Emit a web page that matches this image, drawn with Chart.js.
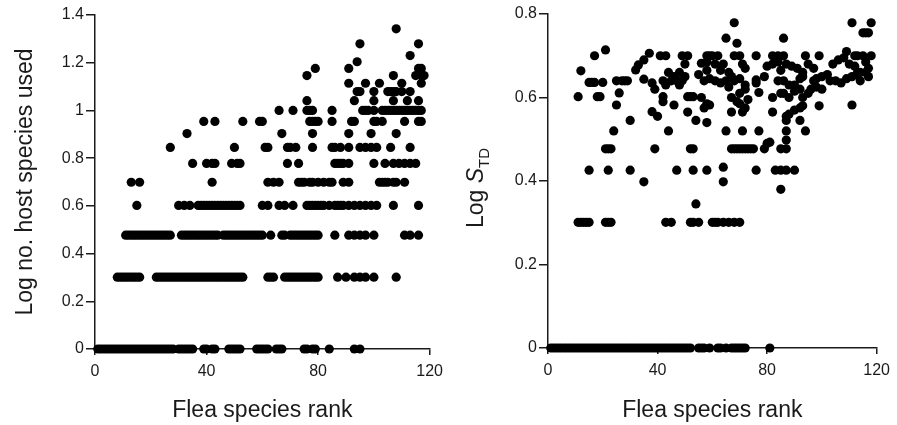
<!DOCTYPE html>
<html>
<head>
<meta charset="utf-8">
<script src="https://cdn.jsdelivr.net/npm/chart.js@4.4.1/dist/chart.umd.min.js"></script>
<style>
    html, body { margin: 0; padding: 0; background: #fff; }
    #wrap { position: relative; width: 897px; height: 425px; }
    canvas { position: absolute; top: 0; }
</style>
</head>
<body>
<div id="wrap">
    <canvas id="hosts" width="450" height="425" style="left:0"></canvas>
    <canvas id="std" width="447" height="425" style="left:450px"></canvas>
</div>
<script>
const xTicks = [0, 40, 80, 120]
const hostTicks = [0, 0.2, 0.4, 0.6, 0.8, 1, 1.2, 1.4]
const stdTicks = [0, 0.2, 0.4, 0.6, 0.8]

// left panel: log no. of hosts, and the ranks sitting on each level
const hostLevels = [0, 0.301, 0.477, 0.602, 0.699, 0.778, 0.845, 0.903, 0.954, 1, 1.041, 1.079, 1.114, 1.146, 1.176, 1.204, 1.230, 1.279, 1.342]
const hostRanks = [
    [1, 2, 3, 4, 5, 6, 7, 8, 9, 10, 11, 12, 13, 14, 15, 16, 17, 18, 19, 20, 21, 22, 23, 24, 25, 26, 27, 28, 30, 31, 32, 33, 34, 35, 39, 40, 42, 43, 48, 49, 50, 51, 52, 58, 59, 60, 61, 62, 65, 66, 67, 75, 76, 78, 79, 84, 93, 95],
    [8, 9, 10, 11, 12, 13, 14, 15, 16, 22, 23, 24, 25, 26, 27, 28, 29, 30, 31, 32, 33, 34, 35, 36, 37, 38, 39, 40, 41, 42, 43, 44, 45, 46, 47, 48, 49, 50, 51, 52, 53, 62, 63, 64, 68, 69, 70, 71, 72, 73, 74, 75, 76, 77, 78, 79, 80, 87, 90, 93, 95, 97, 100, 108],
    [11, 12, 13, 14, 15, 16, 17, 18, 19, 20, 21, 22, 23, 24, 25, 26, 27, 31, 32, 33, 34, 35, 36, 37, 38, 39, 40, 41, 42, 43, 44, 46, 47, 48, 49, 50, 51, 52, 53, 54, 55, 56, 57, 58, 59, 60, 63, 67, 68, 70, 71, 72, 73, 74, 75, 76, 77, 78, 79, 80, 86, 91, 93, 95, 97, 100, 111, 113, 116],
    [15, 30, 32, 34, 37, 38, 39, 40, 41, 42, 43, 44, 45, 46, 47, 48, 49, 50, 51, 52, 60, 62, 66, 68, 71, 76, 77, 78, 79, 80, 81, 82, 84, 86, 87, 88, 89, 91, 93, 95, 97, 99, 101, 107, 116],
    [13, 16, 42, 62, 64, 66, 73, 74, 75, 77, 78, 80, 82, 84, 85, 89, 91, 102, 103, 104, 105, 107, 108, 111],
    [35, 40, 42, 43, 49, 51, 52, 69, 73, 86, 87, 88, 89, 91, 100, 104, 107, 109, 111, 113, 115],
    [27, 50, 61, 62, 69, 70, 72, 78, 85, 86, 88, 91, 95, 97, 99, 101, 106, 113],
    [33, 67, 78, 91, 99, 108],
    [39, 43, 53, 59, 60, 77, 78, 79, 80, 85, 92, 93, 100, 101, 103, 111, 116, 117],
    [66, 71, 76, 77, 78, 85, 96, 97, 98, 100, 103, 104, 105, 106, 107, 108, 109, 110, 111, 112, 113, 114, 115, 116, 117],
    [76, 93, 100, 107, 112, 116],
    [94, 95, 100, 105, 106, 107, 108, 110, 113],
    [91, 97, 102, 110, 117],
    [76, 107, 115, 117, 118],
    [79, 91, 116, 117],
    [94],
    [113],
    [95, 116],
    [108]
]

// right panel: log S_TD, [rank, value]
const stdZeroRanks = [1, 2, 3, 4, 5, 6, 7, 8, 9, 10, 11, 12, 13, 14, 15, 16, 17, 18, 19, 20, 21, 22, 23, 24, 25, 26, 27, 28, 29, 30, 31, 32, 33, 34, 35, 36, 37, 38, 39, 40, 41, 42, 43, 44, 45, 46, 47, 48, 49, 50, 51, 52, 55, 56, 57, 59, 62, 63, 65, 67, 68, 69, 70, 71, 72, 81]
const stdLow = [
    [11, 0.301], [12, 0.301], [13, 0.301], [14, 0.301], [15, 0.301], [21, 0.301], [22, 0.301], [23, 0.301], [43, 0.301], [45, 0.301],
    [52, 0.301], [53, 0.301], [55, 0.301], [60, 0.301], [61, 0.301], [62, 0.301], [64, 0.301], [66, 0.301], [68, 0.301], [70, 0.301],
    [54, 0.345], [85, 0.38], [35, 0.398], [64, 0.398], [64, 0.433],
    [15, 0.426], [22, 0.426], [30, 0.426], [47, 0.426], [53, 0.426], [58, 0.426], [76, 0.426], [83, 0.426], [85, 0.426], [87, 0.426], [90, 0.426],
    [21, 0.477], [22, 0.477], [23, 0.477], [39, 0.477], [52, 0.477], [53, 0.477], [67, 0.477], [68, 0.477], [69, 0.477], [70, 0.477],
    [71, 0.477], [72, 0.477], [73, 0.477], [74, 0.477], [75, 0.477], [79, 0.477], [85, 0.477], [87, 0.477],
    [80, 0.49], [81, 0.493], [87, 0.498]
]
const stdMid = [
    [24, 0.52], [44, 0.52], [65, 0.52], [71, 0.52], [77, 0.52], [87, 0.52], [94, 0.52],
    [30, 0.545], [54, 0.545], [58, 0.54], [87, 0.545], [92, 0.545],
    [38, 0.566], [40, 0.555], [51, 0.565], [57, 0.575], [67, 0.565], [71, 0.565], [82, 0.565], [87, 0.555], [88, 0.56], [90, 0.57], [93, 0.58], [99, 0.58], [111, 0.582],
    [25, 0.582], [46, 0.582], [59, 0.582], [58, 0.585], [70, 0.585], [72, 0.575], [92, 0.575],
    [11, 0.602], [18, 0.602], [19, 0.602], [42, 0.602], [42, 0.59], [51, 0.602], [52, 0.602], [53, 0.602], [56, 0.6], [67, 0.6], [69, 0.59], [73, 0.595], [82, 0.6], [88, 0.6], [93, 0.6],
    [26, 0.611], [39, 0.62], [70, 0.61], [72, 0.62], [77, 0.612], [85, 0.61], [86, 0.61], [90, 0.615], [92, 0.62], [95, 0.61], [96, 0.62], [98, 0.625], [100, 0.62]
]
const stdHigh = [
    [15, 0.636], [16, 0.636], [17, 0.636], [20, 0.636], [25, 0.64], [27, 0.64], [28, 0.64], [29, 0.64], [35, 0.644], [38, 0.635], [42, 0.64], [43, 0.63],
    [44, 0.66], [45, 0.64], [46, 0.65], [47, 0.64], [48, 0.66], [48, 0.63], [49, 0.64], [50, 0.65], [55, 0.655], [57, 0.64], [58, 0.665], [59, 0.645],
    [61, 0.64], [63, 0.635], [65, 0.64], [66, 0.625], [66, 0.66], [67, 0.65], [68, 0.64], [70, 0.645], [72, 0.63], [76, 0.635], [76, 0.642], [79, 0.65],
    [84, 0.64], [86, 0.64], [88, 0.63], [90, 0.63], [92, 0.645], [93, 0.65], [97, 0.64], [98, 0.645], [100, 0.65], [102, 0.655], [103, 0.64], [105, 0.64],
    [107, 0.635], [109, 0.645], [111, 0.65], [113, 0.655], [114, 0.64], [116, 0.66], [117, 0.65], [12, 0.664], [32, 0.666],
    [33, 0.678], [35, 0.69], [50, 0.68], [56, 0.682], [58, 0.685], [61, 0.68], [63, 0.665], [64, 0.68], [71, 0.68], [72, 0.67], [80, 0.675], [82, 0.68],
    [84, 0.685], [85, 0.665], [87, 0.68], [89, 0.675], [91, 0.67], [93, 0.66], [95, 0.68], [97, 0.67], [104, 0.68], [106, 0.69], [108, 0.695], [110, 0.68],
    [112, 0.675], [113, 0.66], [114, 0.66], [116, 0.685], [117, 0.67],
    [17, 0.70], [21, 0.714], [37, 0.706], [41, 0.70], [43, 0.70], [49, 0.70], [51, 0.70], [58, 0.70], [59, 0.70], [60, 0.70], [62, 0.70], [68, 0.70],
    [70, 0.70], [76, 0.70], [82, 0.70], [84, 0.70], [86, 0.70], [94, 0.70], [99, 0.70], [109, 0.71], [112, 0.70], [113, 0.70], [115, 0.70], [118, 0.70],
    [65, 0.742], [69, 0.73], [86, 0.742], [68, 0.779], [111, 0.779], [118, 0.779], [115, 0.755], [116, 0.755], [117, 0.755]
]

const FONT = '"Liberation Sans", Arial, Helvetica, sans-serif'
const INK = '#1a1a1a'

// titles drawn by hand (S_TD needs a subscript); kept in a closure so
// chart.js doesn't run them through its option resolver
function axisTitles(t){
    return {
        id: 'axisTitles',
        afterDraw(chart){
            const ctx = chart.ctx
            const area = chart.chartArea
            ctx.save()
            ctx.fillStyle = INK
            ctx.textBaseline = 'alphabetic'

            ctx.font = `23px ${FONT}`
            ctx.textAlign = 'center'
            ctx.fillText(t.x, (area.left + area.right) / 2, 417)

            ctx.translate(t.yTitleX, t.yTitleY)
            ctx.rotate(-Math.PI / 2)
            let total = 0
            t.y.forEach(p => { ctx.font = p.font; total += ctx.measureText(p.text).width })
            let pos = -total / 2
            ctx.textAlign = 'left'
            t.y.forEach(p => {
                ctx.font = p.font
                ctx.fillText(p.text, pos, p.shift || 0)
                pos += ctx.measureText(p.text).width
            })
            ctx.restore()
        }
    }
}

function fmt(v){ return String(+v.toFixed(2)) }

function scatter(id, points, yTicks, box, titles){
    const tickFont = { family: FONT, size: 16 }
    return new Chart(document.getElementById(id), {
        type: 'scatter',
        data: {
            datasets: [{
                data: points,
                backgroundColor: '#000',
                borderWidth: 0,
                pointRadius: 4.6,
                clip: false
            }]
        },
        options: {
            responsive: false,
            animation: false,
            events: [],
            layout: { padding: { top: box.top, right: box.right, left: 0, bottom: 0 } },
            plugins: { legend: { display: false }, tooltip: { enabled: false } },
            scales: {
                x: {
                    type: 'linear', min: 0, max: 120,
                    border: { display: true, color: INK, width: 1.5 },
                    grid: { drawOnChartArea: false, drawTicks: true, tickLength: 6, color: INK, lineWidth: 1.5 },
                    ticks: { color: INK, font: tickFont, padding: 7, maxRotation: 0 },
                    afterBuildTicks: s => { s.ticks = xTicks.map(v => ({ value: v })) },
                    afterFit: s => { s.height = box.xHeight }
                },
                y: {
                    type: 'linear', min: 0, max: yTicks[yTicks.length - 1],
                    border: { display: true, color: INK, width: 1.5 },
                    grid: { drawOnChartArea: false, drawTicks: true, tickLength: 9, color: INK, lineWidth: 1.5 },
                    ticks: { color: INK, font: tickFont, padding: 2, callback: v => fmt(v) },
                    afterBuildTicks: s => { s.ticks = yTicks.map(v => ({ value: v })) },
                    afterFit: s => { s.width = box.yWidth }
                }
            }
        },
        plugins: [axisTitles(titles)]
    })
}

const hostPoints = []
hostLevels.forEach((lv, i) => hostRanks[i].forEach(r => hostPoints.push({ x: r, y: lv })))

const stdPoints = stdZeroRanks.map(r => ({ x: r, y: 0 }))
stdLow.concat(stdMid, stdHigh).forEach(p => stdPoints.push({ x: p[0], y: p[1] }))

scatter('hosts', hostPoints, hostTicks,
    { top: 15, right: 18, yWidth: 95, xHeight: 76 },
    { x: 'Flea species rank', yTitleX: 32, yTitleY: 182,
      y: [{ text: 'Log no. host species used', font: `23px ${FONT}` }] })

scatter('std', stdPoints, stdTicks,
    { top: 14, right: 13, yWidth: 98, xHeight: 77 },
    { x: 'Flea species rank', yTitleX: 33, yTitleY: 188,
      y: [{ text: 'Log ', font: `23px ${FONT}` },
          { text: 'S', font: `italic 23px ${FONT}` },
          { text: 'TD', font: `15px ${FONT}`, shift: 6 }] })
</script>
</body>
</html>
